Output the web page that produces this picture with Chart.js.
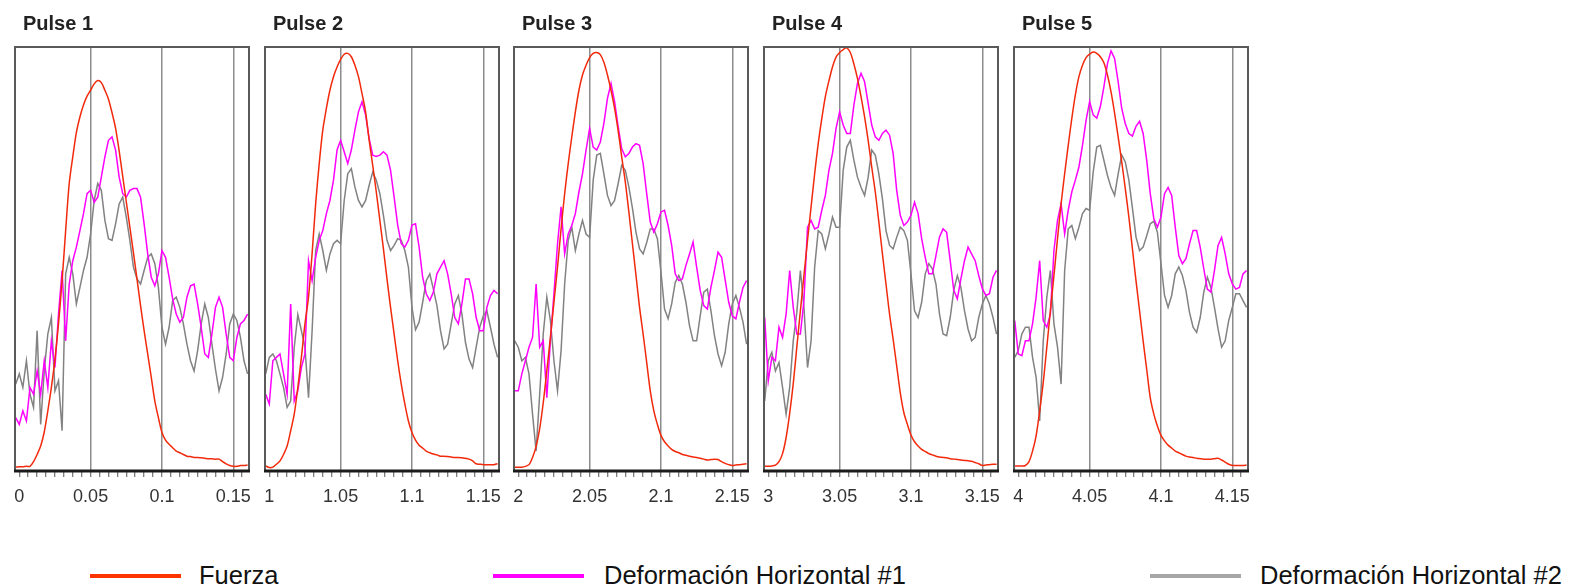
<!DOCTYPE html>
<html>
<head>
<meta charset="utf-8">
<title>Pulsos de carga</title>
<script src="https://cdn.jsdelivr.net/npm/chart.js@4.4.1/dist/chart.umd.min.js"></script>
<style>
  html, body { margin: 0; padding: 0; background: #fff; }
  #page { position: relative; width: 1570px; height: 587px; overflow: hidden;
          font-family: 'Liberation Sans', Arial, sans-serif; }
  .panel { position: absolute; top: 0; width: 254px; height: 510px; }
  .key-line { position: absolute; top: 574px; width: 91px; height: 4px; }
  .key-text { position: absolute; top: 563px; font-size: 25.5px; line-height: 25px;
              color: #111; white-space: nowrap; }
</style>
</head>
<body>
<div id="page"></div>
<script>
// one panel per load pulse, time in seconds
const pulseStarts = [0, 1, 2, 3, 4];
const pulseNames = ['Pulse 1', 'Pulse 2', 'Pulse 3', 'Pulse 4', 'Pulse 5'];
const seriesNames = ['Fuerza', 'Deformación Horizontal #1', 'Deformación Horizontal #2'];

// samples every 2.5 ms, first one 2.5 ms before the pulse start
const firstOffset = -0.0025;
const timeStep = 0.0025;

// x axis: labelled ticks and the small marks between them (offsets from pulse start)
const majorOffsets = [0, 0.05, 0.1, 0.15];
const minorStep = 0.00625;
const minorCount = 26;

// signals, 0-100 of the panel height
const fuerzaP1 = [0.9,1.0,1.0,1.1,1.1,2.2,3.9,5.9,9.2,14.2,
  19.7,26.4,34.7,44.9,56.7,67.8,74.1,79.8,83.5,86.3,
  88.4,89.8,91.3,92.1,91.6,89.8,87.7,84.5,80.8,75.5,
  69.5,63.5,57.5,51.5,45.3,39.0,33.1,27.6,22.1,16.5,
  12.6,9.1,7.3,6.3,5.5,4.7,4.3,3.9,3.5,3.4,
  3.2,3.2,3.1,3.0,2.9,2.9,2.8,2.8,2.2,1.7,
  1.3,1.1,1.1,1.3,1.3,1.4];
const deform1P1 = [12.6,11.0,14.2,11.8,19.7,18.1,23.6,18.1,26.0,19.7,
  30.7,24.4,37.0,47.3,30.7,44.1,49.6,52.8,56.7,60.7,
  65.4,66.2,63.4,64.6,69.3,74.1,78.0,78.8,75.7,69.3,
  65.4,64.6,66.2,66.6,66.6,64.6,58.3,51.2,45.7,43.7,
  46.5,52.0,50.4,45.7,40.6,37.0,35.1,36.2,41.0,43.7,
  44.1,39.4,33.9,27.6,26.8,32.3,38.6,41.0,38.6,32.3,
  26.8,26.0,31.5,34.7,35.5,37.0];
const deform2P1 = [20.5,22.9,19.7,26.0,18.1,15.0,33.1,11.0,23.6,32.3,
  36.2,18.9,21.3,9.5,46.5,50.4,46.5,39.4,43.3,47.3,
  50.4,55.9,63.8,67.8,66.2,59.1,54.8,54.4,58.3,63.0,
  64.6,59.9,54.4,48.1,45.3,44.1,47.3,50.4,51.2,48.9,
  43.3,33.9,29.9,33.9,40.2,41.0,38.6,34.7,29.9,26.0,
  23.6,28.4,34.7,39.4,36.2,29.9,24.0,18.9,22.1,27.6,
  34.7,37.0,35.5,31.5,26.0,22.9];

const fuerzaP2 = [1.2,0.8,0.9,1.6,2.4,3.9,5.9,9.5,13.4,19.7,
  26.8,34.7,41.0,51.2,63.0,72.5,80.4,85.5,89.8,93.0,
  95.3,97.1,98.3,98.5,97.7,95.7,93.0,89.0,84.7,78.0,
  72.1,65.8,59.1,52.4,45.3,38.6,32.3,26.0,20.5,15.8,
  11.8,9.1,7.3,6.1,5.4,4.7,4.3,4.0,3.8,3.5,
  3.5,3.4,3.3,3.2,3.2,3.1,3.0,2.8,2.4,1.7,
  1.6,1.5,1.5,1.5,1.5,1.7];
const deform1P2 = [18.1,15.8,26.0,26.8,27.6,22.9,18.1,39.4,16.5,18.9,
  24.4,27.6,49.6,44.9,50.4,54.4,56.7,60.7,63.8,68.6,
  75.7,78.0,75.3,72.5,75.7,80.4,84.7,87.1,84.0,78.4,
  74.5,74.2,74.5,75.3,74.5,70.9,64.6,58.0,53.6,52.8,
  54.4,58.0,58.3,52.8,45.7,41.8,40.2,42.2,46.5,48.1,
  49.6,46.5,41.8,36.2,34.7,39.4,45.3,45.3,41.8,36.2,
  33.1,33.1,38.6,41.4,42.6,41.8];
const deform2P2 = [22.9,26.8,27.6,26.0,22.9,19.7,15.0,16.5,29.2,36.9,
  33.1,29.2,17.3,32.9,52.0,55.9,52.0,47.3,51.2,53.6,
  54.4,53.6,63.8,70.1,71.3,67.0,63.8,62.3,63.8,67.4,
  70.5,68.6,65.4,60.3,54.4,52.0,53.2,54.8,54.4,52.0,
  48.1,38.6,33.3,35.1,39.8,44.9,46.5,42.9,39.0,33.1,
  28.8,29.9,34.7,39.4,41.4,37.0,30.3,26.4,24.4,29.2,
  33.9,36.6,37.8,33.9,29.9,26.8];

const fuerzaP3 = [0.9,0.9,0.9,1.1,1.5,3.2,5.8,10.0,16.1,23.6,
  31.5,39.8,48.1,57.1,65.4,72.5,78.8,84.7,89.8,93.4,
  95.7,97.5,98.5,98.7,98.2,96.4,93.4,89.8,85.5,80.2,
  74.1,68.2,61.1,53.6,46.1,38.6,32.3,25.6,18.9,14.2,
  11.0,8.4,6.9,5.9,5.1,4.6,4.3,3.9,3.7,3.5,
  3.3,3.2,3.0,2.8,2.6,2.7,2.8,2.7,2.2,1.8,
  1.5,1.3,1.4,1.5,1.6,1.7];
const deform1P3 = [18.9,18.9,22.9,26.0,29.2,31.5,44.1,29.2,30.7,17.3,
  30.7,41.8,53.6,62.3,51.2,55.9,57.9,60.7,65.8,70.1,
  75.7,80.8,76.4,75.7,77.6,82.0,87.9,91.4,87.1,81.2,
  76.0,74.1,74.9,76.4,77.2,76.8,72.5,65.4,58.7,56.3,
  58.3,61.1,61.5,57.9,53.2,46.5,44.9,45.3,48.5,51.2,
  54.0,48.1,42.6,39.0,38.2,43.3,47.3,51.6,50.4,45.1,
  39.8,36.6,35.9,39.8,43.3,44.9];
const deform2P3 = [30.7,29.2,26.0,26.8,22.9,13.4,4.7,18.1,32.3,41.0,
  35.5,26.0,18.9,28.4,44.1,54.4,57.5,52.0,55.9,59.1,
  55.9,55.1,68.6,74.5,74.9,70.1,65.0,62.6,63.8,67.8,
  72.1,70.9,67.0,62.0,56.3,52.4,51.2,53.9,57.1,57.1,
  54.8,46.9,38.2,35.9,39.4,44.5,46.1,44.1,39.8,34.3,
  30.7,30.7,36.6,42.2,42.9,37.8,31.9,27.6,24.8,28.0,
  34.7,39.4,41.4,38.6,35.1,29.9];

const fuerzaP4 = [1.1,1.1,1.2,1.4,2.2,4.1,7.9,13.6,20.6,29.2,
  37.8,46.1,54.4,62.3,70.1,77.2,83.1,88.3,92.0,95.3,
  97.6,98.7,99.4,99.8,98.7,96.0,92.6,88.3,83.5,78.0,
  71.7,65.8,58.7,51.2,44.1,37.0,31.1,24.8,18.5,13.8,
  11.0,8.5,6.9,5.9,5.1,4.6,4.1,3.8,3.5,3.3,
  3.2,3.1,2.9,2.8,2.7,2.6,2.5,2.4,2.3,2.0,
  1.7,1.3,1.4,1.5,1.6,1.6];
const deform1P4 = [36.2,21.3,26.8,26.0,33.9,31.5,37.0,47.3,38.6,32.3,
  32.3,40.2,57.5,59.1,57.1,57.5,61.5,65.0,70.9,74.9,
  80.8,84.7,81.6,79.6,79.6,86.3,91.4,93.8,91.8,86.7,
  81.6,78.8,78.0,79.6,80.4,79.2,74.9,66.2,60.3,57.9,
  58.7,60.3,63.4,60.7,54.8,50.4,46.5,46.5,50.8,55.2,
  57.1,56.3,49.6,42.6,40.6,45.3,49.6,52.8,51.2,49.6,
  46.1,43.0,41.4,41.8,45.7,47.3];
const deform2P4 = [16.5,26.0,28.0,23.6,25.6,19.7,13.4,19.7,30.7,37.4,
  47.3,38.6,24.4,30.7,48.1,56.7,55.9,52.4,55.9,59.9,
  57.5,57.5,70.9,76.4,78.0,73.3,69.3,66.9,65.0,69.3,
  75.7,74.5,70.1,64.2,56.7,53.2,52.4,55.1,57.5,56.7,
  54.4,46.5,37.8,36.2,39.8,46.5,48.9,47.7,44.1,37.0,
  32.3,31.9,36.2,42.6,46.1,43.3,37.8,33.5,30.7,31.5,
  36.2,39.4,41.4,39.4,36.2,32.3];

const fuerzaP5 = [1.2,1.2,1.2,1.3,2.2,4.7,8.3,14.2,20.9,29.2,
  37.8,46.1,54.8,63.0,70.1,76.8,83.1,88.7,93.0,95.7,
  97.5,98.3,98.8,98.5,97.7,96.3,93.4,89.4,84.4,78.8,
  72.9,66.6,59.9,52.4,44.9,37.8,30.7,24.0,17.3,13.4,
  10.6,8.4,7.1,6.1,5.4,4.7,4.3,3.9,3.5,3.3,
  3.2,3.0,2.9,2.8,2.8,2.8,2.9,3.0,2.6,2.1,
  1.6,1.3,1.3,1.3,1.3,1.4];
const deform1P5 = [35.5,27.6,27.2,30.7,30.7,34.7,41.0,49.6,35.5,33.9,
  37.0,52.0,59.1,63.0,55.9,61.5,65.8,68.6,71.7,76.8,
  82.7,87.1,84.0,83.2,85.9,90.6,96.1,99.1,97.3,91.8,
  85.5,81.9,79.6,79.0,81.3,82.5,79.6,73.3,65.4,59.5,
  57.5,59.9,65.4,66.9,65.0,57.5,50.8,48.9,50.1,53.6,
  56.7,56.7,52.8,47.7,42.9,42.2,47.3,53.2,55.1,51.2,
  46.5,44.1,42.9,43.3,46.5,47.3];
const deform2P5 = [26.8,28.4,32.3,33.9,33.9,26.8,22.1,11.8,30.7,41.0,
  47.3,34.7,29.2,20.5,47.3,57.1,57.9,54.8,57.5,60.7,
  61.9,61.5,70.5,76.4,76.8,73.3,69.7,66.9,65.0,70.1,
  74.5,72.9,68.6,62.0,55.2,52.0,52.8,55.5,58.3,58.9,
  56.3,48.9,41.4,38.6,41.4,46.5,48.1,46.1,42.6,37.4,
  33.9,32.7,36.2,42.2,45.7,43.3,38.6,33.5,29.2,30.7,
  35.5,38.6,41.8,41.8,40.2,38.6];

const fuerza = [fuerzaP1, fuerzaP2, fuerzaP3, fuerzaP4, fuerzaP5];
const deform1 = [deform1P1, deform1P2, deform1P3, deform1P4, deform1P5];
const deform2 = [deform2P1, deform2P2, deform2P3, deform2P4, deform2P5];

const lineColors = ['#f22a0c', '#ff00ff', '#828282'];
const keyColors = ['#ff3300', '#ff00ff', '#a6a6a6'];

const FONT = "'Liberation Sans', Arial, sans-serif";
const panelLeft = [15, 265, 514, 764, 1014];
const keyLineLeft = [90, 493, 1150];
const keyTextLeft = [199, 604, 1260];

// box around the plot area, heavier along the time axis
const framePlugin = {
  id: 'frame',
  afterDatasetsDraw(chart) {
    const { ctx, chartArea: a } = chart;
    ctx.save();
    ctx.strokeStyle = '#5a5a5a';
    ctx.lineWidth = 2;
    ctx.strokeRect(a.left, a.top, a.right - a.left, a.bottom - a.top);
    ctx.strokeStyle = '#1a1a1a';
    ctx.lineWidth = 3;
    ctx.beginPath();
    ctx.moveTo(a.left - 1, a.bottom);
    ctx.lineTo(a.right + 1, a.bottom);
    ctx.stroke();
    ctx.restore();
  }
};

const panelTitle = {
  id: 'panelTitle',
  afterDraw(chart, args, opts) {
    const { ctx, chartArea } = chart;
    ctx.save();
    ctx.font = 'bold 20px ' + FONT;
    ctx.fillStyle = '#222';
    ctx.textBaseline = 'alphabetic';
    ctx.fillText(opts.text, chartArea.left + 8, 30);
    ctx.restore();
  }
};

function majorAt(offset) {
  return majorOffsets.find(m => Math.abs(offset - m) < 1e-6);
}

function buildPanel(i) {
  const start = pulseStarts[i];
  const toPoints = values => values.map((v, k) => ({ x: start + firstOffset + k * timeStep, y: v }));

  const wrap = document.createElement('div');
  wrap.className = 'panel';
  wrap.style.left = (panelLeft[i] - 10) + 'px';
  const canvas = document.createElement('canvas');
  wrap.appendChild(canvas);
  document.getElementById('page').appendChild(wrap);

  const series = [fuerza[i], deform1[i], deform2[i]];

  new Chart(canvas, {
    type: 'line',
    data: {
      datasets: series.map((values, s) => ({
        label: seriesNames[s],
        data: toPoints(values),
        borderColor: lineColors[s],
        borderWidth: 1.5,
        pointRadius: 0,
        tension: s === 0 ? 0.3 : 0
      }))
    },
    options: {
      responsive: true,
      maintainAspectRatio: false,
      animation: false,
      devicePixelRatio: 1,
      events: [],
      layout: { padding: { left: 10, right: 10, top: 47, bottom: 0 } },
      plugins: {
        legend: { display: false },
        tooltip: { enabled: false },
        panelTitle: { text: pulseNames[i] }
      },
      scales: {
        x: {
          type: 'linear',
          min: start - 0.003,
          max: start + 0.161,
          afterBuildTicks: scale => {
            const ticks = [];
            for (let j = 0; j < minorCount; j++) ticks.push({ value: start + j * minorStep });
            scale.ticks = ticks;
          },
          afterFit: scale => { scale.height = 39; },
          border: { display: false },
          grid: {
            color: ctx => {
              const m = majorAt(ctx.tick.value - start);
              return m !== undefined && m > 0 ? '#8c8c8c' : 'rgba(0,0,0,0)';
            },
            lineWidth: 1.5,
            tickLength: 6,
            tickColor: '#555',
            tickWidth: 1
          },
          ticks: {
            autoSkip: false,
            maxRotation: 0,
            padding: 9,
            color: '#333',
            font: { size: 18, family: FONT },
            callback: value => {
              const m = majorAt(value - start);
              return m === undefined ? '' : String(Math.round((start + m) * 100) / 100);
            }
          }
        },
        y: { display: false, min: 0, max: 100 }
      }
    },
    plugins: [framePlugin, panelTitle]
  });
}

pulseStarts.forEach((_, i) => buildPanel(i));

// legend along the bottom
const page = document.getElementById('page');
seriesNames.forEach((name, s) => {
  const line = document.createElement('div');
  line.className = 'key-line';
  line.style.left = keyLineLeft[s] + 'px';
  line.style.background = keyColors[s];
  page.appendChild(line);
  const text = document.createElement('div');
  text.className = 'key-text';
  text.style.left = keyTextLeft[s] + 'px';
  text.textContent = name;
  page.appendChild(text);
});
</script>
</body>
</html>
